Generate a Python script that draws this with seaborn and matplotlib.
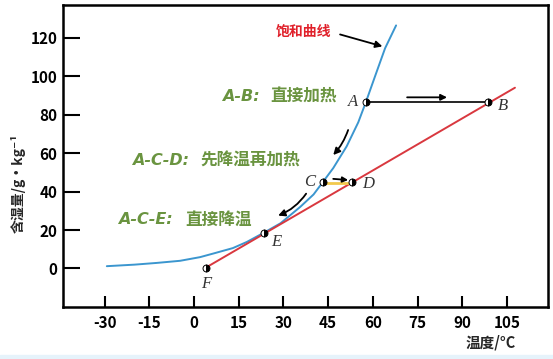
import matplotlib
matplotlib.use("Agg")
import matplotlib.pyplot as plt
import seaborn as sns
from matplotlib.patches import Rectangle

# saturation curve (blue)
sat_t = [-29.3, -20, -12.5, -4.7, 2, 6.5, 13, 17.7, 23.3, 29, 35.6, 40.1, 43.2,
         46.7, 51.2, 55.1, 57.7, 60.7, 64.1, 67.8]
sat_d = [1.2, 2.0, 2.9, 4.0, 5.9, 7.8, 10.6, 13.8, 18.5, 23.5, 32.0, 38.5, 44.9,
         52.2, 63.5, 76.0, 86.7, 99.8, 114.5, 126.4]
# red straight line F -> end
line_t = [4, 107.7]
line_d = [0.5, 94]
# state points
pt_names = ["A", "B", "C", "D", "E", "F"]
pt_t = [57.7, 98.7, 43.2, 53, 23.3, 4]
pt_d = [86.7, 86.7, 45, 45, 18.5, 0.5]
x_ticks = [-30, -15, 0, 15, 30, 45, 60, 75, 90, 105]
y_ticks = [0, 20, 40, 60, 80, 100, 120]

green = "#6a9440"

sns.set_theme(style="white")
plt.rcParams['font.family'] = ['Noto Sans CJK SC', 'DejaVu Sans']

fig = plt.figure(figsize=(5.53, 3.59), dpi=100)
ax = fig.add_axes([0.114, 0.145, 0.877, 0.841])

sns.lineplot(x=sat_t, y=sat_d, sort=False, color="#3b96cf", lw=1.4, ax=ax)
sns.lineplot(x=line_t, y=line_d, sort=False, color="#d9383f", lw=1.4, ax=ax)
# A -> B
sns.lineplot(x=[pt_t[0], pt_t[1]], y=[pt_d[0], pt_d[1]], sort=False,
             color="black", lw=1.2, ax=ax)
# C -> D (yellow)
sns.lineplot(x=[pt_t[2], pt_t[3]], y=[pt_d[2] - 0.6, pt_d[3] - 0.6], sort=False,
             color="#f2c94c", lw=2.0, ax=ax)

# half filled point markers + letters
offs = {"A": (-9.4, 0), "B": (10.8, -3.4), "C": (-9.4, 0),
        "D": (11.5, -1.4), "E": (9.4, -6.5), "F": (0, -12)}
for n, t, d in zip(pt_names, pt_t, pt_d):
    ax.plot(t, d, marker="o", ms=5, fillstyle="right", mfc="black",
            mfcalt="white", mec="black", mew=0.7, zorder=5)
    ax.annotate(n, (t, d), xytext=offs[n], textcoords="offset points",
                ha="center", va="center", fontsize=12, style="italic",
                family="Liberation Serif", color="#333333")

# arrows
def arrow(tail, head, rad=0.0, ms=10):
    ax.annotate("", xy=head, xytext=tail,
                arrowprops=dict(arrowstyle="-|>", color="black", lw=1.3,
                                mutation_scale=ms, shrinkA=0, shrinkB=0,
                                connectionstyle="arc3,rad=%s" % rad))

arrow((49, 121.7), (63.2, 115.5))
arrow((71.5, 89), (84.9, 89), ms=9)
arrow((51.7, 72), (46.7, 59), rad=-0.1)
arrow((37.6, 38.9), (28.2, 27.5), rad=-0.15)
arrow((46.7, 46.6), (51.7, 46.0), ms=8)

# texts
ax.text(36.7, 123.3, "饱和曲线", color="#e0202a", fontsize=10, fontweight="bold",
        ha="center", va="center")

labels = [("A-B:", "直接加热", 9.3, 47.9, 89.3),
          ("A-C-D:", "先降温再加热", -20.9, 35.6, 56.1),
          ("A-C-E:", "直接降温", -25.4, 19.4, 25.4)]
for lat, cn, x0, x1, y in labels:
    ax.text(x0, y, lat, color=green, fontsize=11.5, fontweight="bold",
            style="oblique", family="DejaVu Sans", ha="left", va="center")
    ax.text(x1, y, cn, color=green, fontsize=12, fontweight="bold",
            ha="right", va="center")

ax.set_xlim(-44, 118.8)
ax.set_ylim(-20, 137)
ax.set_xticks(x_ticks)
ax.set_xticklabels([str(v) for v in x_ticks])
ax.set_yticks(y_ticks)
ax.set_yticklabels([str(v) for v in y_ticks])
ax.tick_params(axis="x", direction="in", length=8, width=1.5, pad=6,
               labelsize=11, colors="black", bottom=True)
ax.tick_params(axis="y", direction="in", length=12, width=1.5, pad=4,
               labelsize=11, colors="black", left=True)
for lab in ax.get_xticklabels() + ax.get_yticklabels():
    lab.set_fontweight("bold")
for s in ax.spines.values():
    s.set_visible(True)
    s.set_color("black")
    s.set_linewidth(1.8)

fig.text(18 / 553, 1 - 183 / 359, "含湿量/g·kg⁻¹", rotation=90, ha="center",
         va="center", fontsize=10, fontweight="bold")
fig.text(491 / 553, 1 - 342 / 359, "温度/°C", ha="center", va="center",
         fontsize=10.5, fontweight="bold")
fig.add_artist(Rectangle((0, 0), 1, 4 / 359, transform=fig.transFigure,
                         color="#e6f3fb", zorder=0))

plt.savefig("out.png", dpi=100)
